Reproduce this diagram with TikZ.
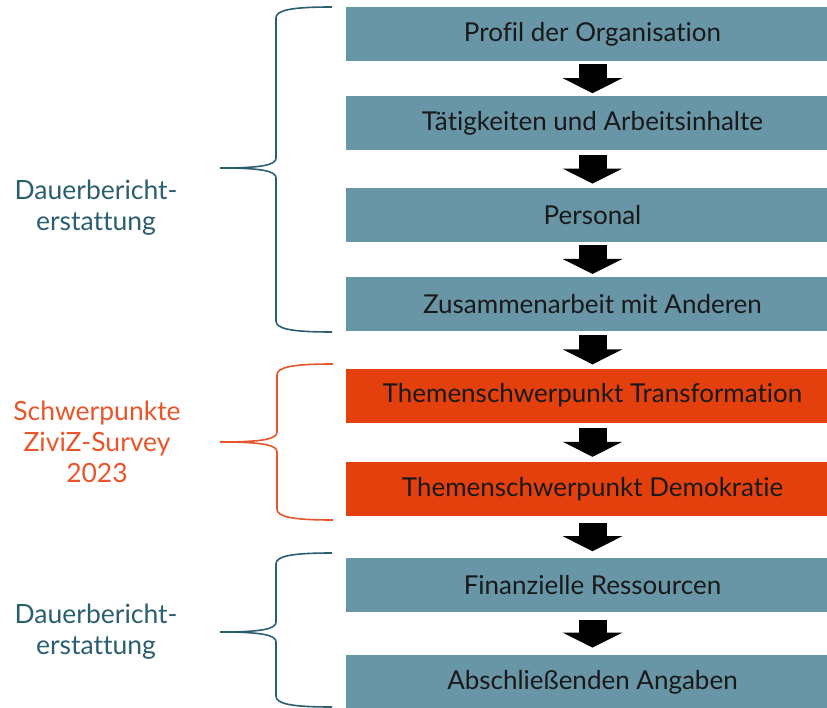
\documentclass[tikz,border=0pt]{standalone}
\usepackage{fontspec}
\setmainfont{Lato}[Ligatures=NoCommon]
\usetikzlibrary{positioning,arrows.meta}
\definecolor{kastenblau}{HTML}{6896A6}
\definecolor{kastenrot}{HTML}{E4400D}
\definecolor{klammerblau}{HTML}{2B5E6E}
\definecolor{klammerrot}{HTML}{E8552A}

\begin{document}
\begin{tikzpicture}[x=1pt,y=-1pt,
	kasten/.style={minimum width=493pt, minimum height=54pt, inner sep=0pt, fill=kastenblau, text=black!90, font=\fontsize{26}{30}\selectfont},
	schwerpunkt/.style={kasten, fill=kastenrot},
	pfeil/.style={line width=28pt, -{Triangle[width=59pt,length=15pt]}, shorten <=#1, shorten >=#1},
	klammer/.style={line width=1.6pt},
	beschriftung/.style={align=center, font=\fontsize{26.5}{31}\selectfont}
]
\useasboundingbox (0,0) rectangle (827,708);
\clip (0,0) rectangle (827,708);
% boxes
\node[kasten] (profil) at (592.5,34) {Profil der Organisation};
\node[kasten, below=35pt of profil] (taetig) {Tätigkeiten und Arbeitsinhalte};
\node[kasten, below=37pt of taetig] (personal) {Personal};
\node[kasten, below=35pt of personal] (zusammen) {Zusammenarbeit mit Anderen};
\node[schwerpunkt, below=37pt of zusammen] (transform) {Themenschwerpunkt Transformation};
\node[schwerpunkt, below=39pt of transform] (demokratie) {Themenschwerpunkt Demokratie};
\node[kasten, below=42pt of demokratie] (finanzen) {Finanzielle Ressourcen};
\node[kasten, below=42pt of finanzen] (abschluss) {Abschließenden Angaben};
% arrows
\draw[pfeil=3pt] (profil) -- (taetig);
\draw[pfeil=4pt] (taetig) -- (personal);
\draw[pfeil=3pt] (personal) -- (zusammen);
\draw[pfeil=4pt] (zusammen) -- (transform);
\draw[pfeil=5pt] (transform) -- (demokratie);
\draw[pfeil=7pt] (demokratie) -- (finanzen);
\draw[pfeil=7pt] (finanzen) -- (abschluss);
% braces
\draw[klammer, klammerblau] (332,7) .. controls (292,7) and (276,10) .. (276,18) -- (276,158)
	.. controls (276,165) and (262,168) .. (220,168) .. controls (262,168) and (276,171) .. (276,178)
	-- (276,321) .. controls (276,329) and (292,332) .. (332,332);
\draw[klammer, klammerrot] (333,364) .. controls (293,364) and (277,367) .. (277,375) -- (277,432)
	.. controls (277,439) and (263,442) .. (220,442) .. controls (263,442) and (277,445) .. (277,452)
	-- (277,509) .. controls (277,517) and (293,520) .. (333,520);
\draw[klammer, klammerblau] (332,553) .. controls (292,553) and (276,556) .. (276,564) -- (276,622)
	.. controls (276,629) and (262,632) .. (220,632) .. controls (262,632) and (276,635) .. (276,642)
	-- (276,696) .. controls (276,704) and (292,707) .. (332,707);
% labels
\node[beschriftung, text=klammerblau] (dauer) at (96,208) {Dauerbericht-\\erstattung};
\node[beschriftung, text=klammerrot] (survey) at (97,442) {Schwerpunkte\\ZiviZ-Survey\\2023};
\node[beschriftung, text=klammerblau] (dauerzwei) at (96,632) {Dauerbericht-\\erstattung};
\end{tikzpicture}
\end{document}
